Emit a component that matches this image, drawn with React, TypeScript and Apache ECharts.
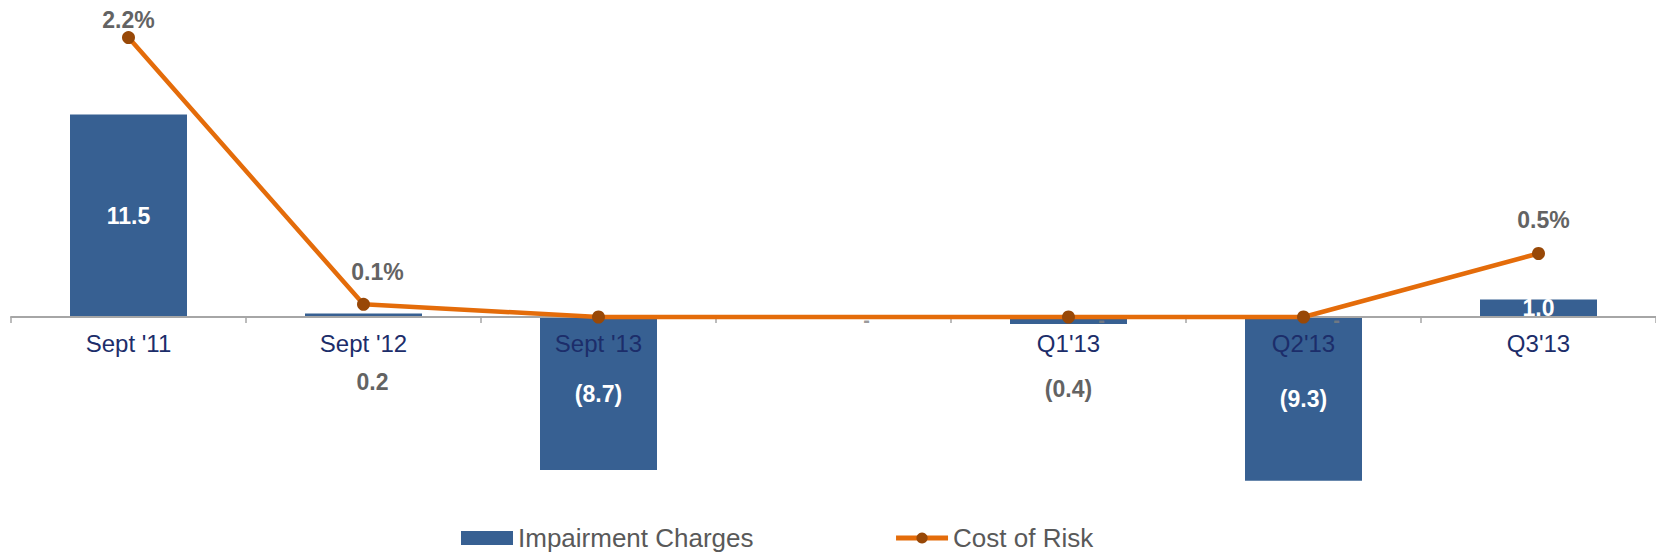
import React, { useEffect, useRef } from "react";
import * as echarts from "echarts";

// Categories along the x axis (the blank slot separates the yearly and quarterly groups)
const categories = ["Sept '11", "Sept '12", "Sept '13", "", "Q1'13", "Q2'13", "Q3'13"];

// Impairment charges (bars)
const impairmentCharges: (number | null)[] = [11.5, 0.2, -8.7, null, -0.4, -9.3, 1.0];

// Cost of risk in % (line)
const costOfRisk: (number | null)[] = [2.2, 0.1, 0, null, 0, 0, 0.5];

// Zero markers shown as dashes on the baseline
const zeroMarks: (number | null)[] = [null, null, null, 0, 0, 0, null];

const BAR_COLOR = "#376092";
const LINE_COLOR = "#E46C0A";
const DOT_COLOR = "#984807";
const LABEL_GRAY = "#636363";
const AXIS_NAVY = "#1C2D6A";
const FONT = "Liberation Sans, Arial, sans-serif";

function fmtCharge(v: number): string {
  return v < 0 ? `(${Math.abs(v).toFixed(1)})` : v.toFixed(1);
}

export default function App() {
  const ref = useRef<HTMLDivElement>(null);

  useEffect(() => {
    if (!ref.current) return;
    const chart = echarts.init(ref.current, undefined, { renderer: "svg" });

    // bars that are too small to hold their label get it underneath in gray
    const barData = impairmentCharges.map((v, i) => {
      if (v === null) return { value: null };
      const small = Math.abs(v) < 0.5;
      return {
        value: v,
        label: small
          ? {
              show: true,
              position: "bottom",
              distance: 53,
              offset: [i === 1 ? 9 : 0, 0],
              color: LABEL_GRAY,
            }
          : { show: true, position: "inside", color: "#ffffff" },
      };
    });

    const lineOffsets: Record<number, number[]> = {
      0: [0, 3],
      1: [14, -11],
      6: [5, -13],
    };
    const lineData = costOfRisk.map((v, i) => ({
      value: v,
      label: {
        show: v !== null && v !== 0,
        offset: lineOffsets[i] || [0, 0],
      },
    }));

    chart.setOption({
      animation: false,
      textStyle: { fontFamily: FONT },
      // the grid ends at the zero line so the category axis sits there;
      // negative bars are drawn below it without clipping
      grid: { left: 11, right: 0, top: 17.8, height: 299.2 },
      legend: {
        left: 461,
        top: 525,
        padding: 0,
        itemWidth: 52,
        itemHeight: 14,
        itemGap: 140,
        textStyle: { fontSize: 26, lineHeight: 26, color: "#595959", fontFamily: FONT },
        data: [
          { name: "Impairment Charges", icon: "rect" },
          {
            name: "Cost of Risk",
            lineStyle: { color: LINE_COLOR, width: 5 },
            itemStyle: { color: DOT_COLOR },
          },
        ],
      },
      xAxis: {
        type: "category",
        data: categories,
        boundaryGap: true,
        z: 3,
        axisLine: { show: true, onZero: false, lineStyle: { color: "#A6A6A6", width: 2 } },
        axisTick: { show: true, interval: 0, length: 6, lineStyle: { color: "#A6A6A6", width: 1.5 } },
        axisLabel: {
          interval: 0,
          margin: 14,
          fontSize: 24,
          color: AXIS_NAVY,
          fontFamily: FONT,
        },
        splitLine: { show: false },
      },
      yAxis: [
        {
          type: "value",
          min: 0,
          max: 17,
          show: false,
          splitLine: { show: false },
        },
        {
          type: "value",
          min: 0,
          max: 2.356,
          show: false,
          splitLine: { show: false },
        },
      ],
      series: [
        {
          name: "Impairment Charges",
          type: "bar",
          yAxisIndex: 0,
          barWidth: 117,
          clip: false,
          data: barData,
          itemStyle: { color: BAR_COLOR },
          z: 1,
          label: {
            fontSize: 23,
            fontWeight: "bold",
            fontFamily: FONT,
            formatter: (p: any) => fmtCharge(p.value),
          },
        },
        {
          name: "Cost of Risk",
          type: "line",
          yAxisIndex: 1,
          data: lineData,
          connectNulls: true,
          clip: false,
          symbol: "circle",
          symbolSize: 13,
          lineStyle: { color: LINE_COLOR, width: 4.5 },
          itemStyle: { color: DOT_COLOR },
          z: 5,
          label: {
            position: "top",
            distance: 3,
            fontSize: 23,
            fontWeight: "bold",
            color: LABEL_GRAY,
            fontFamily: FONT,
            formatter: (p: any) => `${Number(p.value).toFixed(1)}%`,
          },
        },
        {
          name: "zero",
          type: "scatter",
          yAxisIndex: 0,
          data: zeroMarks,
          symbolSize: 0,
          silent: true,
          clip: false,
          z: 4,
          label: {
            show: true,
            position: "inside",
            offset: [33, 3],
            formatter: "-",
            fontSize: 20,
            fontWeight: "bold",
            color: "#7F7F7F",
            fontFamily: FONT,
          },
        },
      ],
    });

    return () => chart.dispose();
  }, []);

  return (
    <div
      ref={ref}
      style={{ position: "fixed", left: 0, top: 0, width: 1656, height: 553, background: "#ffffff" }}
    />
  );
}
